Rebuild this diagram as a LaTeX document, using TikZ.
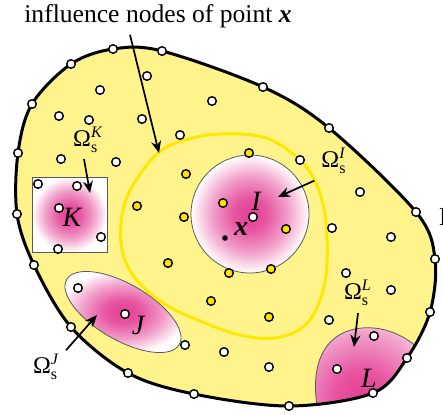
\documentclass[tikz,border=0pt]{standalone}
\usepackage{fontspec}
\setmainfont{Liberation Serif}
\usepackage{amsmath}
\usepackage{xcolor}
\definecolor{domainyellow}{RGB}{255,244,140}
\definecolor{curveyellow}{RGB}{255,232,0}
\definecolor{nodeyellow}{RGB}{255,226,0}
\definecolor{supportpink}{RGB}{228,62,148}
\usepackage{tikz}
\usetikzlibrary{arrows.meta,calc}
\pgfdeclareradialshading{supportshade}{\pgfpoint{0bp}{0bp}}{color(0bp)=(supportpink); color(7bp)=(supportpink!88!white); color(16bp)=(supportpink!50!white); color(25bp)=(white); color(50bp)=(white)}

\begin{document}
\begin{tikzpicture}[
    x=0.5pt, y=-0.5pt,
    every node/.style={font=\fontsize{12}{14}\selectfont},
    fieldnode/.style={draw, circle, line width=0.7pt, fill=white, minimum size=4.3pt, inner sep=0pt},
    influnode/.style={fieldnode, fill=nodeyellow},
    support/.style={draw=black!65, line width=0.4pt, shading=supportshade},
    pointer/.style={-{Stealth[length=6pt,width=5pt]}, line width=0.85pt},
    letter/.style={font=\fontsize{14}{16}\selectfont\itshape}
]
\useasboundingbox (0,0) rectangle (443,414);
\def\bdry{plot[smooth cycle, tension=0.55] coordinates {(113,49) (162,51) (263,87) (329,128) (416,212) (435,259) (430,312) (407,358) (373,393) (289,406) (194,394) (128,373) (71,327) (34,265) (17,214) (18,153) (32,104) (71,64)}}

% Problem domain
\fill[domainyellow] \bdry;

% Support domains
\shadedraw[support] (32,177) rectangle (107,252);
\shadedraw[support] (250,214) circle (59);
\shadedraw[support, rotate around={-30:(123,312)}] (123,312) ellipse [x radius=65, y radius=28];
\begin{scope}
  \clip \bdry;
  \begin{scope}
    \clip (317,430) -- (317,406) .. controls (313,380) and (315,345) .. (345,332) .. controls (370,322) and (400,330) .. (420,350) -- (460,340) -- (460,430) -- cycle;
    \shade[shading=supportshade] (362,398) circle (100);
  \end{scope}
  \draw[black!65, line width=0.4pt] (317,430) -- (317,406) .. controls (313,380) and (315,345) .. (345,332) .. controls (370,322) and (400,330) .. (420,350);
\end{scope}

% Influence domain of x
\draw[curveyellow, line width=1.5pt] plot[smooth cycle, tension=0.6] coordinates {(158,153) (185,140) (220,134) (263,137) (292,153) (310,172) (322,200) (327,235) (326,275) (318,305) (303,327) (275,338) (240,335) (200,321) (163,303) (135,278) (122,250) (122,215) (133,185)};

% Boundary
\draw[line width=1.5pt] \bdry;

% Field nodes
\foreach \p [count=\i] in {(113,49),(162,51),(263,87),(329,128),(416,212),(435,259),(430,312),(407,358),(373,393),(289,406),(194,394),(128,373),(71,327),(34,265),(17,214),(18,153),(32,104),(71,64)}
  \node[fieldnode] (b\i) at \p {};
\foreach \p [count=\i] in {(147,76),(100,90),(212,101),(59,116),(89,120),(142,119),(180,135),(61,159),(116,162),(300,160),(360,192),(391,237),(332,228),(346,273),(391,290),(329,320),(185,345),(224,352),(269,367),(78,288),(374,336),(337,369),(38,184),(77,186),(101,237),(58,249)}
  \node[fieldnode] (w\i) at \p {};
\foreach \p [count=\i] in {(249,153),(186,174),(137,206),(184,217),(223,203),(286,229),(168,263),(229,273),(271,269),(211,301),(269,317)}
  \node[influnode] (y\i) at \p {};
\node[fieldnode] (nK) at (59,208) {};
\node[fieldnode] (nI) at (253,217) {};
\node[fieldnode] (nJ) at (125,314) {};
\node[circle, fill=black, minimum size=2.8pt, inner sep=0pt] (xpt) at (225,238) {};

% Labels
\node[letter] (labK) at (72,217) {K};
\node[letter] (labI) at (256,201) {I};
\node[letter] (labJ) at (138,325) {J};
\node[letter] (labL) at (369,378) {L};
\node[font=\fontsize{14}{16}\selectfont\bfseries\itshape] (labx) at (241,229) {x};
\node[anchor=west, font=\fontsize{13}{15}\selectfont] (gamma) at (432,217) {Γ};
\node[font=\fontsize{12.8}{15}\selectfont] (title) at (158,16) {influence nodes of point \textbf{\textit{x}}};

\node (omK) at (88,140) {$\text{Ω}_{\text{s}}^{\textit{K}}$};
\node (omI) at (334,161) {$\text{Ω}_{\text{s}}^{\textit{I}}$};
\node (omJ) at (46,367) {$\text{Ω}_{\text{s}}^{\textit{J}}$};
\node (omL) at (358,293) {$\text{Ω}_{\text{s}}^{\textit{L}}$};

% Pointers
\coordinate (tipX) at (159,153);
\coordinate (tipK) at (90,193);
\coordinate (tipI) at (278,197);
\coordinate (tipJ) at (97,315);
\coordinate (tipL) at (354,347);
\draw[pointer] ($(title.south)+(-28,0)$) -- (tipX);
\draw[pointer] (omK.south) ++(-4,-1) -- (tipK);
\draw[pointer] (omI.225) -- (tipI);
\draw[pointer] (omJ.40) -- (tipJ);
\draw[pointer] (omL.south) -- (tipL);
\end{tikzpicture}
\end{document}
